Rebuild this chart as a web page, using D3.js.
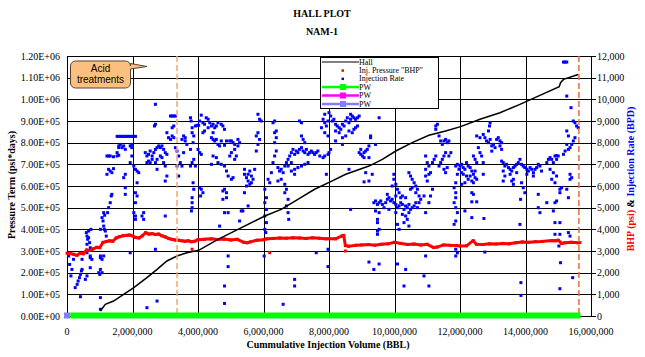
<!DOCTYPE html>
<html><head><meta charset="utf-8">
<script src="https://cdn.jsdelivr.net/npm/d3@7"></script>
<style>body{margin:0;background:#fff}svg{display:block}</style>
</head><body><svg id="c" width="645" height="357"></svg>
<script>
// ---------- DATA ----------
const xTickValues = [0,2,4,6,8,10,12,14,16]; // millions of BBL
const xTickLabels = ["0","2,000,000","4,000,000","6,000,000","8,000,000","10,000,000","12,000,000","14,000,000","16,000,000"];
const leftTickValues = [0,1e5,2e5,3e5,4e5,5e5,6e5,7e5,8e5,9e5,1e6,1.1e6,1.2e6];
const leftTickLabels = ["0.00E+00","1.00E+05","2.00E+05","3.00E+05","4.00E+05","5.00E+05","6.00E+05","7.00E+05","8.00E+05","9.00E+05","1.00E+06","1.10E+06","1.20E+06"];
const rightTickValues = [0,1000,2000,3000,4000,5000,6000,7000,8000,9000,10000,11000,12000];
const rightTickLabels = ["0","1,000","2,000","3,000","4,000","5,000","6,000","7,000","8,000","9,000","10,000","11,000","12,000"];

// Hall: [cum volume (M BBL), pressure term psi*days]
const hallSeries = [[1.02,23000],[1.17,53800],[1.42,69200],[1.73,100000],[2.04,130800],[2.44,177000],[2.75,215000],[3.05,254000],[3.36,277000],[3.66,292000],[4.02,303000],[4.61,354000],[5.22,400000],[6.04,461500],[6.54,492000],[7.05,538000],[7.56,585000],[8.02,618000],[8.51,654000],[9.22,692000],[9.63,723000],[10.04,761500],[10.54,800000],[11.05,834000],[11.56,854000],[12.02,874000],[12.61,908000],[13.22,938000],[13.83,977000],[14.44,1018000],[15.03,1058000],[15.07,1077000],[15.16,1092000],[15.61,1115000]];

// BHP: [cum volume (M BBL), psi]
const bhpSeries = [[0.0,2900],[0.1,2880],[0.2,2850],[0.3,2800],[0.4,2900],[0.5,2870],[0.6,3050],[0.7,3020],[0.8,3100],[0.9,3170],[1.0,3150],[1.1,3400],[1.2,3440],[1.3,3470],[1.4,3450],[1.5,3600],[1.6,3660],[1.7,3700],[1.8,3720],[1.9,3740],[2.0,3700],[2.1,3620],[2.2,3600],[2.3,3700],[2.4,3850],[2.5,3780],[2.6,3800],[2.7,3760],[2.8,3780],[2.9,3700],[3.0,3650],[3.1,3580],[3.2,3540],[3.3,3510],[3.4,3500],[3.5,3470],[3.6,3450],[3.7,3470],[3.8,3430],[3.9,3450],[4.0,3520],[4.2,3540],[4.4,3560],[4.6,3530],[4.8,3550],[5.0,3510],[5.2,3540],[5.4,3400],[5.5,3380],[5.6,3420],[5.8,3500],[6.0,3520],[6.1,3560],[6.3,3580],[6.5,3600],[6.7,3590],[6.9,3610],[7.1,3600],[7.3,3580],[7.5,3610],[7.7,3590],[7.9,3560],[8.0,3570],[8.2,3560],[8.4,3700],[8.45,3720],[8.5,3250],[8.6,3220],[8.8,3260],[9.0,3280],[9.2,3300],[9.4,3270],[9.6,3310],[9.8,3330],[10.0,3400],[10.2,3350],[10.4,3300],[10.6,3320],[10.8,3280],[11.0,3310],[11.2,3160],[11.3,3180],[11.5,3280],[11.7,3260],[11.9,3250],[12.0,3230],[12.2,3240],[12.4,3480],[12.5,3310],[12.7,3300],[12.9,3330],[13.1,3320],[13.3,3350],[13.5,3330],[13.7,3380],[13.9,3420],[14.1,3400],[14.3,3430],[14.5,3440],[14.8,3480],[14.9,3470],[15.0,3500],[15.1,3350],[15.2,3380],[15.4,3400],[15.6,3380],[15.66,3390]];
const bhpOutliers = [[8.5,3000],[6.19,2920],[3.82,3080]];

// Injection rate: [cum volume (M BBL), BPD]
const injectionRate = [
[0.05,2770],[0.08,2380],[0.15,2150],[0.12,1850],[0.41,890],[0.25,1310],[0.31,1460],[0.34,1615],[0.38,1770],[0.41,1920],[0.44,2080],[0.46,2150],
[0.20,2615],[0.46,2615],[0.46,2920],[0.61,2920],[0.71,2690],[0.71,2230],[1.02,2690],[1.02,2150],[0.97,2000],[1.00,1920],[1.02,850],[1.02,310],
[0.59,3850],[0.61,3690],[0.63,3540],[0.66,3615],[0.69,3385],[0.71,3150],[0.61,3310],[0.73,4000],[0.66,3920],
[1.07,4540],[1.10,4385],[1.12,4150],[1.14,4000],[1.17,3920],[1.02,4000],[1.20,3690],
[1.12,4770],[1.15,4650],[1.24,4770],[1.27,5000],[1.32,5230],[1.35,5540],[1.37,5615],
[1.22,7385],[1.27,7385],[1.32,7385],[1.42,7350],[1.53,7385],[1.58,7420],[1.53,7540],[1.58,7850],
[1.27,6770],[1.32,6690],[1.37,6615],[1.22,6540],[1.42,6800],
[1.53,8290],[1.58,8290],[1.63,8290],[1.68,8290],[1.73,8290],[1.78,8290],[1.83,8290],[1.88,8290],[1.93,8290],[1.98,8290],[2.04,8290],[2.09,8290],
[1.63,7920],[1.68,7770],[1.73,7850],[1.78,7690],[1.58,7770],
[1.78,6540],[1.73,6385],[1.78,5920],[1.78,5615],[1.98,7770],[1.98,7385],[2.04,6920],[2.09,6770],[2.14,6690],[2.19,6615],[2.14,6150],[2.09,5690],[2.14,5540],[2.09,5230],[2.04,4770],[2.09,4615],[2.09,4460],[2.34,4770],[2.29,4615],[2.34,4460],
[1.93,7080],[1.93,7850],[1.98,7920],
[2.39,7540],[2.44,7385],[2.49,7460],[2.54,7615],[2.60,7385],[2.65,7540],[2.70,7690],[2.75,7770],[2.80,7850],[2.85,7770],[2.90,7850],[2.95,7690],[3.00,7540],[3.05,7460],[2.44,7080],[2.49,7150],[2.54,7080],[2.60,7230],[2.70,7080],[2.75,7230],[2.85,7385],[2.90,7310],[2.95,7080],[3.00,6920],[2.75,6770],
[2.70,9770],[2.70,8850],[2.67,8770],
[3.05,8460],[3.10,8230],[3.16,8150],[3.21,8310],[3.26,8230],[3.21,8690],[3.26,8770],[3.16,9230],[3.21,9230],[3.26,9230],[3.31,9230],
[3.31,7770],[3.36,7615],[3.41,7385],[3.46,7080],[3.36,6920],[3.51,6920],[3.41,6460],[3.56,8310],[3.61,8080],[3.66,7920],[3.61,8230],[3.51,8150],[3.56,7540],
[3.77,9150],[3.79,9000],[3.82,8690],[3.82,8460],[3.87,8310],[3.85,8000],[3.92,8770],[3.97,8800],[4.02,8800],
[3.77,6920],[3.82,7080],[3.87,7230],[3.92,6920],[3.77,7690],[3.85,6150],[3.87,5850],[3.82,5460],[3.82,5230],[3.82,5000],[3.80,4850],
[3.00,6230],[3.05,6460],[3.00,4615],[2.44,385],[2.75,690],
[2.70,3080],[1.93,2920],[1.02,2770],[1.07,2615],[1.12,2770],[0.71,2770],[0.76,2615],[0.61,1850],[0.56,1690],[1.07,2000],
[4.10,9270],[4.05,9000],[4.15,8920],[4.20,8850],[4.25,9150],[4.31,9080],[4.36,8920],[4.41,8770],[4.46,8850],[4.51,8690],[4.56,8770],[4.61,8920],[4.71,8850],[4.76,8770],[4.81,8615],[4.20,8540],[4.31,8690],[4.46,8460],[4.15,8460],
[4.41,8230],[4.46,8150],[4.51,8080],[4.56,8150],[4.61,7920],[4.71,8080],[4.66,7850],[4.81,7880],[4.87,8080],[4.97,8080],[5.02,8080],[5.07,8000],[5.12,7920],[5.22,8150],[5.27,8000],[5.22,7850],
[4.00,7690],[4.05,7540],[4.10,7460],[4.46,7385],[4.56,7310],[4.41,7000],[4.61,7080],[4.71,7000],[4.81,6920],[4.87,6690],[4.92,6460],[5.02,6310],[5.07,6385],[4.97,7385],[5.02,7540],[5.12,7690],[5.17,7385],[5.12,7230],
[4.05,5920],[4.10,5850],[4.15,5690],[4.08,5540],
[4.76,5770],[4.81,5850],[4.87,5690],[4.87,5460],[4.76,5385],
[5.42,6770],[5.42,6540],[5.48,6385],[5.53,6230],[5.58,6080],[5.63,6150],[5.68,6310],[5.53,6540],[5.63,6460],[5.48,6000],[5.42,5690],[5.58,6690],[5.73,6770],
[5.83,9310],[5.88,9080],[5.93,9000],[5.83,8460],[5.78,8310],[5.88,8150],[5.83,7920],[5.78,7615],
[4.81,4770],[4.92,4770],[5.32,4850],[5.37,4850],[5.53,5080],[5.27,4385],[4.66,4150],[4.92,2770],[4.92,2280],[4.81,1385],[4.81,580],
[6.04,5850],[6.09,5460],[6.04,5230],[6.09,4920],[6.04,4615],[6.09,4310],[6.04,4000],[6.07,3850],[6.02,2770],[6.14,6310],[6.19,6150],[6.24,6615],[6.29,7080],[6.34,7385],[6.39,7615],[6.34,8000],[6.39,8230],[6.34,8460],[6.39,8540],[6.29,8920],[6.34,9000],
[6.44,6850],[6.49,6690],[6.54,6770],[6.60,6615],[6.65,6920],[6.70,7080],[6.75,7230],[6.80,7385],[6.85,7540],[6.90,7690],[6.95,7460],[7.00,7615],[7.05,7540],[7.10,7690],[7.16,7770],[7.21,7615],[7.26,7540],[7.31,7690],[7.36,7460],[7.41,7540],[7.46,7615],[7.51,7540],[7.56,7460],[7.61,7540],[7.66,7615],[7.72,7385],[6.75,6920],[6.85,7080],[6.95,6770],[7.05,6850],[7.16,6920],[7.26,7000],[7.36,7080],[6.95,6540],[6.85,6690],
[6.44,6230],[6.54,6310],[6.65,6080],[6.70,5850],[6.65,5690],[6.75,5385],[6.75,4770],[6.77,4460],[6.70,5080],
[7.16,8310],[7.21,8150],[7.16,8920],[7.10,9000],[7.26,8000],
[7.87,9310],[7.82,9080],[7.87,8920],[7.92,8770],[7.97,9000],[7.77,8690],[7.87,8460],[7.97,8310],
[7.82,7310],[7.87,7385],[7.97,7460],[7.92,6540],
[6.95,1690],[6.95,1385],[6.60,540],[7.61,2920],[7.97,3080],[7.97,2280],
[8.00,9385],[8.05,9230],[8.10,9000],[8.15,9080],[8.20,8850],[8.25,8770],[8.31,8690],[8.36,8615],[8.41,8850],[8.46,8770],[8.51,9000],[8.56,9150],[8.61,8920],[8.66,9080],[8.71,9230],[8.76,9150],[8.81,9080],[8.87,9150],[8.92,9230],[8.66,9310],[8.20,8540],[8.31,8460],[8.41,8230],[8.51,8310],[8.61,8540],[8.71,8460],[8.76,8615],[8.81,8690],[8.87,8770],
[8.05,7690],[8.00,7540],[8.20,8080],[8.41,7920],
[8.92,7540],[8.97,7460],[9.02,7385],[9.07,7540],[9.12,7615],[9.07,7310],[9.17,7690],[9.22,7850],[9.27,8230],[9.27,8310],[9.22,7310],[8.97,7690],
[9.42,7920],[9.53,9150],[8.61,6770],[9.12,6615],[9.32,6540],[9.22,6230],[9.07,6190],
[9.37,5230],[9.42,5310],[9.48,5150],[9.53,5230],[9.58,5310],[9.63,5150],[9.68,5000],[9.73,5230],[9.78,5385],[9.83,5460],[9.88,5310],[9.93,5385],[9.98,5230],[10.04,5150],[10.09,5000],[10.14,5080],[10.19,5230],[10.24,5150],[10.29,4920],[10.34,5080],[10.39,5000],[10.44,5150],[10.49,4920],[10.54,5000],[10.60,5080],[10.65,5230],[9.42,4850],[9.53,4770],[9.83,4920],[10.04,4770],[10.24,4690],[10.44,4770],[9.78,5615],[10.04,5540],[10.24,5540],[10.34,5460],
[9.98,6540],[9.98,6310],[9.93,6000],[10.04,6080],[10.09,5850],[10.14,5690],[10.19,5460],
[9.48,4460],[9.48,4310],[9.53,4000],[9.48,3920],[10.09,4230],[10.14,4000],[10.34,4615],[10.39,4460],[10.44,4150],[10.29,4310],
[10.44,6615],[10.49,6460],[10.54,6310],[10.60,6150],[10.65,6000],[10.70,5850],[10.65,5690],[10.54,5920],[10.49,5850],[10.75,5540],[10.80,5385],[10.75,5230],[10.70,5000],
[10.95,7385],[11.00,7080],[10.95,6770],[11.05,6920],[11.10,6615],[10.95,6460],[11.16,7080],[11.21,7230],[11.26,7385],[11.05,6540],[11.00,6230],[11.16,5850],[11.10,5540],[11.05,5230],[10.90,5540],[10.95,4770],
[11.26,8770],[11.31,8850],[11.26,8615],[11.36,8310],[11.41,8080],[11.46,7920],[11.51,8080],[11.56,8150],[11.61,8000],[11.66,8080],[11.56,7540],[11.51,7385],[11.46,7230],[11.41,7080],[11.36,6920],[11.51,6770],[11.56,6615],[11.61,6850],[11.66,7385],[11.72,7540],
[11.87,6920],[11.92,7000],[11.97,6770],[11.92,6540],[11.87,6150],
[11.82,5920],[11.87,5690],[11.87,5460],[11.82,5230],[11.87,5000],[11.92,4770],[11.87,4385],[11.82,4230],[11.87,3080],[11.92,2920],[11.87,2770],
[9.53,2400],[9.37,2150],[9.22,2490],[10.09,2400],[10.34,2150],[10.95,2770],[10.90,1850],[11.05,1385],[10.29,1385],[8.66,4920],[9.48,3770],
[15.16,11720],[15.21,11720],[15.26,11720],[15.26,10150],[15.39,9615],[15.51,8920],[15.56,8770],[15.61,8690],[15.46,9000],
[15.51,8230],[15.46,8080],[15.41,7920],[15.36,7770],[15.31,7690],[15.26,7920],[15.26,8540],[15.31,8310],[15.21,7615],[15.16,7460],
[12.92,8920],[12.90,8770],[12.87,8540],
[12.51,8310],[12.61,8230],[12.71,8380],[12.76,8230],[12.81,8080],[12.87,8000],[12.92,8150],[12.97,7850],[13.02,7920],[13.07,7770],[13.12,8150],[13.17,8230],[13.22,8080],[13.27,8000],[13.22,7850],[13.27,7690],[12.97,7610],
[12.56,7770],[12.61,7540],[12.66,7385],[12.71,7080],[12.41,7385],[12.46,7230],[12.51,7080],
[12.00,6920],[12.05,7000],[12.10,6850],[12.15,6770],[12.20,7080],[12.25,6920],[12.31,6850],[12.36,6690],[12.41,6540],[12.46,6385],[12.51,6310],[12.36,6230],[12.41,6150],[12.46,6690],[12.05,6615],[12.10,6540],[12.20,6460],[12.25,6310],[12.31,6460],[12.15,6150],[12.05,6080],
[12.36,5690],[12.41,5615],[12.51,5270],[12.36,5270],[12.15,4850],[12.36,4540],[12.71,6540],[12.73,4500],
[13.27,7150],[13.32,7080],[13.37,6920],[13.42,7000],[13.48,6850],[13.53,6770],[13.58,6690],[13.63,6850],[13.68,6920],[13.73,7000],[13.78,7080],[13.83,7230],[13.88,7000],[13.93,6920],[13.98,6850],[14.04,6770],[14.09,6690],[14.14,6850],[14.19,6770],[14.24,6615],[14.29,6770],[14.34,6850],[14.39,7000],[14.44,6920],[14.49,6690],[13.32,6690],[13.53,6540],[13.73,6615],[14.04,6540],[14.24,6460],[13.37,6460],[13.63,6310],[13.58,6230],[13.63,6080],[13.88,6150],[13.93,5920],[13.98,5690],[13.32,6230],
[14.65,7080],[14.70,7230],[14.75,7310],[14.80,7230],[14.85,7080],[14.90,7385],[14.95,7400],[15.00,7385],[14.95,7230],[14.75,6770],[14.85,6615],[14.80,6310],[14.90,6150],[14.95,6460],
[14.39,5615],[14.39,5000],[14.44,4770],[14.65,5230],[14.90,5230],[14.85,4850],[14.95,5310],
[15.05,5850],[15.10,5920],[15.05,5690],[15.26,5850],[15.31,5460],[15.36,6540],[15.41,6385],[15.36,6310],
[14.90,4310],[15.05,4310],[14.90,3770],[15.05,3770],[15.31,3850],[15.36,3690],[15.02,3230],[15.07,2460],[15.05,1260],[15.44,1770],
[13.83,4230],[13.86,1540],[13.86,950],[12.76,2950],[13.85,5385]
];

const pwSeries = [[0.1,0],[15.68,0]];
const pwStart = [[0,0]];
const acidTreatmentVolumes = [3.36, 15.63];

// ---------- CHART ----------
const svg = d3.select("#c");
const L = 67, R = 591, T = 56, B = 316;
const x = d3.scaleLinear().domain([0,16]).range([L,R]);
const yL = d3.scaleLinear().domain([0,1.2e6]).range([B,T]);
const yR = d3.scaleLinear().domain([0,12000]).range([B,T]);
const serif = "'Liberation Serif','Times New Roman',serif";
const crisp = v => Math.round(v) + 0.5;

svg.append("rect").attr("width",645).attr("height",357).attr("fill","#fff");

// Titles
svg.append("text").attr("x",322).attr("y",17).attr("text-anchor","middle")
  .attr("font-family",serif).attr("font-weight","bold").attr("font-size",10).text("HALL PLOT");
svg.append("text").attr("x",322).attr("y",35).attr("text-anchor","middle")
  .attr("font-family",serif).attr("font-weight","bold").attr("font-size",10).text("NAM-1");

// gridlines
const g = svg.append("g");
g.selectAll(".hg").data(leftTickValues).join("line")
  .attr("x1",L).attr("x2",R).attr("y1",d=>crisp(yL(d))).attr("y2",d=>crisp(yL(d)))
  .attr("stroke","#000").attr("stroke-width",1);
g.selectAll(".vg").data(xTickValues.filter(v=>v>0&&v<16)).join("line")
  .attr("y1",T).attr("y2",B).attr("x1",d=>crisp(x(d))).attr("x2",d=>crisp(x(d)))
  .attr("stroke","#000").attr("stroke-width",1);

// axes lines
svg.append("line").attr("x1",crisp(L)).attr("x2",crisp(L)).attr("y1",T).attr("y2",B+0.5).attr("stroke","#000");
svg.append("line").attr("x1",crisp(R)).attr("x2",crisp(R)).attr("y1",T).attr("y2",B+0.5).attr("stroke","#000");
svg.append("line").attr("x1",L).attr("x2",R).attr("y1",crisp(B)).attr("y2",crisp(B)).attr("stroke","#000");

// right axis ticks
svg.selectAll(".rt").data(rightTickValues).join("line")
  .attr("x1",R-2).attr("x2",R+5).attr("y1",d=>crisp(yR(d))).attr("y2",d=>crisp(yR(d))).attr("stroke","#000");

// tick labels
svg.selectAll(".ll").data(leftTickValues).join("text")
  .attr("x",60).attr("y",d=>yL(d)+3.5).attr("text-anchor","end")
  .attr("font-family",serif).attr("font-size",10).text((d,i)=>leftTickLabels[i]);
svg.selectAll(".rl").data(rightTickValues).join("text")
  .attr("x",597).attr("y",d=>yR(d)+3.5).attr("text-anchor","start")
  .attr("font-family",serif).attr("font-size",10).text((d,i)=>rightTickLabels[i]);
svg.selectAll(".xl").data(xTickValues).join("text")
  .attr("x",d=>x(d)).attr("y",335).attr("text-anchor","middle")
  .attr("font-family",serif).attr("font-size",10).text((d,i)=>xTickLabels[i]);

// axis titles
svg.append("text").attr("x",328).attr("y",348).attr("text-anchor","middle")
  .attr("font-family",serif).attr("font-weight","bold").attr("font-size",10).text("Cummulative Injection Volume (BBL)");
svg.append("text").attr("transform","translate(15,185) rotate(-90)").attr("text-anchor","middle")
  .attr("font-family",serif).attr("font-weight","bold").attr("font-size",10).text("Pressure Term (psi*days)");
const rt = svg.append("text").attr("transform","translate(634,179) rotate(-90)").attr("text-anchor","middle")
  .attr("font-family",serif).attr("font-weight","bold").attr("font-size",10);
rt.append("tspan").attr("fill","#f00").text("BHP (psi)");
rt.append("tspan").attr("fill","#000").text("  &  ");
rt.append("tspan").attr("fill","#00f").text("Injection Rate (BPD)");

// Injection rate points
svg.append("g").selectAll("rect").data(injectionRate).join("rect")
  .attr("x",d=>x(d[0])-1.5).attr("y",d=>yR(d[1])-1.5).attr("width",3).attr("height",3).attr("fill","#0000ff");

// BHP
svg.append("path").datum(bhpSeries)
  .attr("d",d3.line().x(d=>x(d[0])).y(d=>yR(d[1])))
  .attr("fill","none").attr("stroke","#ff0000").attr("stroke-width",3).attr("stroke-linejoin","round");
svg.append("g").selectAll("rect").data(bhpSeries.concat(bhpOutliers)).join("rect")
  .attr("x",d=>x(d[0])-1.5).attr("y",d=>yR(d[1])-1.5).attr("width",3).attr("height",3).attr("fill","#ff0000");

// Hall
svg.append("path").datum(hallSeries)
  .attr("d",d3.line().x(d=>x(d[0])).y(d=>yL(d[1])))
  .attr("fill","none").attr("stroke","#000").attr("stroke-width",1.5);

// acid treatment dashed lines
svg.selectAll(".acid").data(acidTreatmentVolumes).join("line")
  .attr("x1",d=>x(d)).attr("x2",d=>x(d)).attr("y1",T).attr("y2",B)
  .attr("stroke",(d,i)=>i===0?"#f6a56e":"#e5703a").attr("stroke-width",1.5).attr("stroke-dasharray","6,3");

// PW (green zero line)
svg.append("path").datum(pwSeries)
  .attr("d",d3.line().x(d=>x(d[0])).y(d=>yL(d[1])-0.5))
  .attr("fill","none").attr("stroke","#00ff00").attr("stroke-width",6);
svg.selectAll(".pws").data(pwStart).join("rect")
  .attr("x",d=>x(d[0])-3).attr("y",d=>yL(d[1])-3.5).attr("width",6).attr("height",6).attr("fill","#7f7fff");

// Legend
const lg = svg.append("g");
lg.append("rect").attr("x",320.5).attr("y",57.5).attr("width",118).attr("height",51).attr("fill","#fff").attr("stroke","#000");
const legendItems = [
  {label:"Hall", type:"line", color:"#000"},
  {label:"Inj. Pressure \"BHP\"", type:"dot", color:"#ff0000"},
  {label:"Injection Rate", type:"dot", color:"#0000ff"},
  {label:"PW", type:"pw", color:"#00ff00"},
  {label:"PW", type:"pw", color:"#ff00ff"},
  {label:"PW", type:"pw", color:"#7f7fff"}
];
const rowY = [62, 70.3, 78.6, 87, 95.5, 104];
legendItems.forEach((it,i)=>{
  const yy = rowY[i];
  if(it.type==="line"){
    lg.append("line").attr("x1",322).attr("x2",359).attr("y1",yy).attr("y2",yy).attr("stroke",it.color).attr("stroke-width",1.2);
  } else if(it.type==="dot"){
    lg.append("rect").attr("x",341.5).attr("y",yy-1).attr("width",2.5).attr("height",2.5).attr("fill",it.color);
  } else {
    lg.append("line").attr("x1",322).attr("x2",359).attr("y1",yy).attr("y2",yy).attr("stroke",it.color).attr("stroke-width",2.5);
    lg.append("rect").attr("x",340).attr("y",yy-3).attr("width",6).attr("height",6).attr("fill",it.color);
  }
  lg.append("text").attr("x",359).attr("y",yy+2.6).attr("font-family",serif).attr("font-size",8).text(it.label);
});

// Callout
const cx0=70.5, cx1=130.5, cy0=61, cy1=88, r=5;
const callout = d3.path();
callout.moveTo(cx0+r,cy0);
callout.lineTo(cx1-r,cy0);
callout.arcTo(cx1,cy0,cx1,cy0+r,r);
callout.lineTo(cx1,cy0+2.5);
callout.lineTo(147,66.5);
callout.lineTo(cx1,cy0+8);
callout.lineTo(cx1,cy1-r);
callout.arcTo(cx1,cy1,cx1-r,cy1,r);
callout.lineTo(cx0+r,cy1);
callout.arcTo(cx0,cy1,cx0,cy1-r,r);
callout.lineTo(cx0,cy0+r);
callout.arcTo(cx0,cy0,cx0+r,cy0,r);
callout.closePath();
svg.append("path").attr("d",callout.toString()).attr("fill","#fbc07f").attr("stroke","#5a4030").attr("stroke-width",1);
svg.append("text").attr("x",100.5).attr("y",71.5).attr("text-anchor","middle")
  .attr("font-family","'Liberation Sans',Arial,sans-serif").attr("font-size",10).text("Acid");
svg.append("text").attr("x",100.5).attr("y",83).attr("text-anchor","middle")
  .attr("font-family","'Liberation Sans',Arial,sans-serif").attr("font-size",10).text("treatments");
</script></body></html>
